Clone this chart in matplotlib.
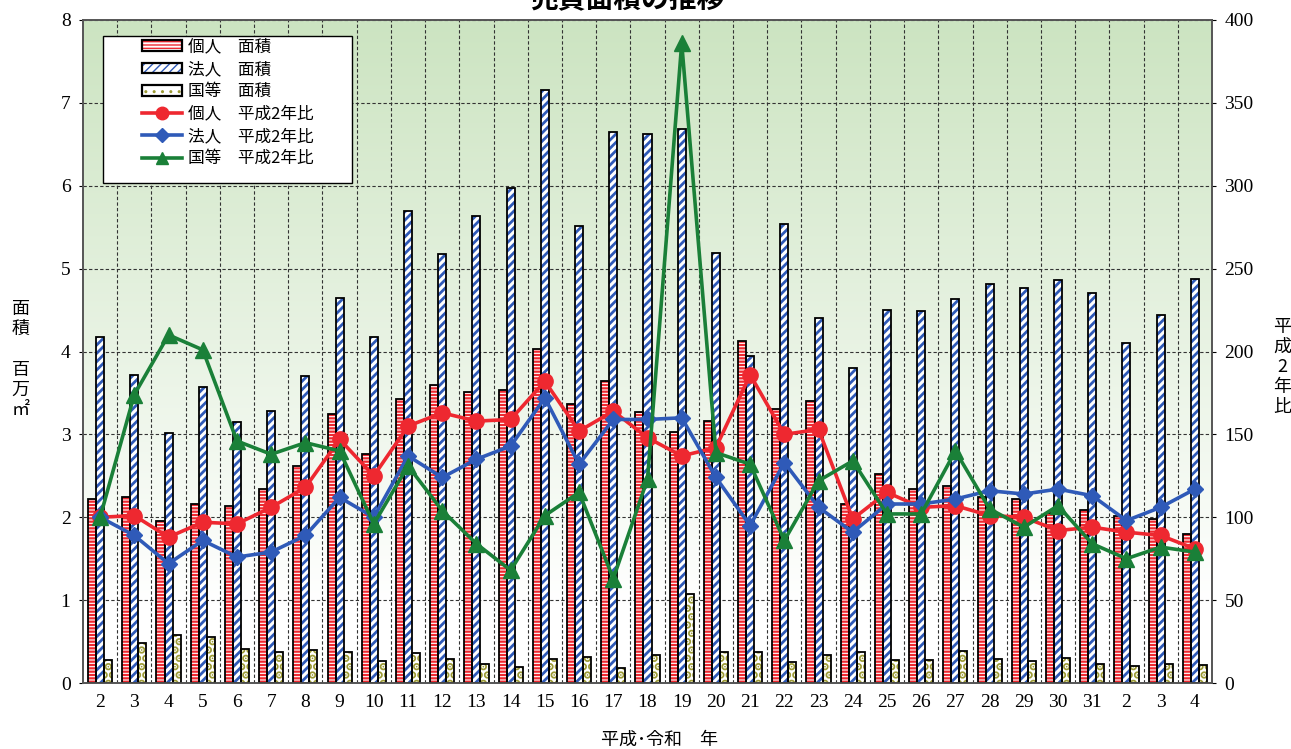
import numpy as np
import matplotlib
matplotlib.use("Agg")
import matplotlib.pyplot as plt
from matplotlib.colors import LinearSegmentedColormap
from matplotlib.lines import Line2D
from matplotlib.patches import Patch, Rectangle
from matplotlib.legend_handler import HandlerTuple

# 年次（平成2年〜31年、令和2年〜4年）
years = ["2", "3", "4", "5", "6", "7", "8", "9", "10", "11", "12", "13", "14", "15",
         "16", "17", "18", "19", "20", "21", "22", "23", "24", "25", "26", "27", "28",
         "29", "30", "31", "2", "3", "4"]

# 面積（百万㎡）
area_kojin = [2.22, 2.25, 1.96, 2.16, 2.13, 2.34, 2.62, 3.25, 2.76, 3.43, 3.59, 3.51,
              3.53, 4.03, 3.37, 3.65, 3.27, 3.03, 3.16, 4.13, 3.31, 3.40, 2.16, 2.52,
              2.34, 2.38, 2.24, 2.22, 2.05, 2.09, 2.02, 1.98, 1.80]
area_hojin = [4.17, 3.72, 3.02, 3.57, 3.15, 3.28, 3.70, 4.65, 4.17, 5.70, 5.18, 5.63,
              5.97, 7.16, 5.51, 6.65, 6.62, 6.68, 5.19, 3.94, 5.54, 4.40, 3.80, 4.50,
              4.49, 4.63, 4.82, 4.77, 4.86, 4.70, 4.10, 4.44, 4.87]
area_kuni = [0.28, 0.48, 0.58, 0.55, 0.41, 0.38, 0.40, 0.38, 0.27, 0.36, 0.29, 0.23,
             0.19, 0.29, 0.31, 0.18, 0.34, 1.07, 0.38, 0.37, 0.25, 0.34, 0.37, 0.28,
             0.28, 0.39, 0.29, 0.26, 0.30, 0.23, 0.21, 0.23, 0.22]

# 平成2年比（%）
ratio_kojin = [100, 101, 88, 97, 96, 106, 118, 147, 125, 155, 163, 158, 159, 182, 152,
               164, 148, 137, 142, 186, 150, 153, 99, 115, 106, 107, 101, 100, 92, 94,
               91, 89, 81]
ratio_hojin = [100, 89, 72, 86, 76, 79, 89, 112, 100, 137, 124, 135, 143, 172, 132,
               159, 159, 160, 124, 95, 133, 106, 91, 108, 108, 111, 116, 114, 117, 113,
               98, 106, 117]
ratio_kuni = [100, 174, 210, 201, 146, 138, 145, 140, 96, 131, 104, 84, 68, 101, 115,
              63, 123, 386, 139, 132, 86, 122, 134, 102, 102, 140, 105, 94, 107, 84,
              75, 82, 79]

jp = ["Noto Sans CJK JP", "DejaVu Sans"]
serif = "Liberation Serif"

RED, BLUE, OLIVE, GREEN = "#ee2830", "#2f5ab8", "#9c9a35", "#1a8038"

fig = plt.figure(figsize=(12.91, 7.49), dpi=100)
ax = fig.add_axes([0.0643, 0.0881, 0.8745, 0.8852])
ax2 = ax.twinx()

n = len(years)
x = np.arange(n)
xmin, xmax = -0.5, n - 0.5

# 背景のグラデーション（下は白、上に向かって薄い緑）
cmap = LinearSegmentedColormap.from_list("bg", [(0.0, "#ffffff"), (0.12, "#ffffff"),
                                                 (1.0, "#cce4c1")])
grad = np.linspace(0, 1, 256).reshape(-1, 1)
ax.imshow(grad, extent=[xmin, xmax, 0, 8], origin="lower", aspect="auto",
          cmap=cmap, zorder=0)

bw = 0.235
# (値, ずらし, 模様の色, 模様, 模様の線幅)
series = [
    (area_kojin, -bw, RED, "-----", 1.6),
    (area_hojin, 0.0, BLUE, "////", 2.0),
    (area_kuni, bw, OLIVE, "..", 4.0),
]
legend_patches = []
for vals, off, hc, hatch, hlw in series:
    with plt.rc_context({"hatch.linewidth": hlw}):
        ax.bar(x + off, vals, width=bw, facecolor="white", edgecolor=hc,
               hatch=hatch, linewidth=0, zorder=3)
        hp = Patch(facecolor="white", edgecolor=hc, hatch=hatch, lw=0)
    ax.bar(x + off, vals, width=bw, fill=False, edgecolor="black", linewidth=1.3,
           zorder=4)
    legend_patches.append((hp, Patch(fill=False, edgecolor="black", lw=1.6)))

ax.set_xlim(xmin, xmax)
ax.set_ylim(0, 8)
ax.set_yticks(range(0, 9))
ax.set_xticks(x)
ax.set_xticklabels(years)
ax.set_xticks(np.arange(0.5, n - 1, 1.0), minor=True)
ax.tick_params(axis="x", which="both", length=0, pad=8)
ax.tick_params(axis="y", length=3, direction="out", pad=6)
for lab in ax.get_xticklabels() + ax.get_yticklabels():
    lab.set_fontfamily(serif)
    lab.set_fontsize(14)

ax.grid(axis="y", which="major", color="#333333", linestyle=(0, (3, 2)),
        linewidth=0.8, zorder=1)
ax.grid(axis="x", which="minor", color="#333333", linestyle=(0, (3, 2)),
        linewidth=0.8, zorder=1)
ax.set_axisbelow(True)

# 平成2年比の折れ線
ax2.plot(x, ratio_kojin, color=RED, lw=2.6, marker="o", ms=11, zorder=6)
ax2.plot(x, ratio_hojin, color=BLUE, lw=2.6, marker="D", ms=8, zorder=6)
ax2.plot(x, ratio_kuni, color=GREEN, lw=2.6, marker="^", ms=11, zorder=6)
ax2.set_ylim(0, 400)
ax2.set_yticks(range(0, 401, 50))
ax2.tick_params(axis="y", length=3, direction="out", pad=6)
for lab in ax2.get_yticklabels():
    lab.set_fontfamily(serif)
    lab.set_fontsize(14)

for a in (ax, ax2):
    for s in a.spines.values():
        s.set_color("#555555")
        s.set_linewidth(1.2)

# 凡例（枠は別に描く）
box = Rectangle((0.0177, 0.754), 0.2205, 0.2219, transform=ax2.transAxes,
                facecolor="white", edgecolor="black", linewidth=1.0, zorder=9)
ax2.add_patch(box)
handles = legend_patches + [
    Line2D([], [], color=RED, lw=2.6, marker="o", ms=9),
    Line2D([], [], color=BLUE, lw=2.6, marker="D", ms=7),
    Line2D([], [], color=GREEN, lw=2.6, marker="^", ms=9),
]
labels = ["個人　面積", "法人　面積", "国等　面積",
          "個人　平成2年比", "法人　平成2年比", "国等　平成2年比"]
leg = ax2.legend(handles, labels, loc="upper left", bbox_to_anchor=(0.052, 0.972),
                 prop={"family": jp, "size": 12}, frameon=False,
                 handlelength=2.4, handleheight=0.6, labelspacing=0.32,
                 borderpad=0.0, handletextpad=0.35, borderaxespad=0,
                 handler_map={tuple: HandlerTuple(ndivide=1, pad=0)})
leg.set_zorder(10)

# 軸ラベル
fig.text(0.016, 0.52, "面\n積\n\n百\n万\n㎡", family=jp, fontsize=13,
         ha="center", va="center", linespacing=1.15)
fig.text(0.993, 0.51, "平\n成\n2\n年\n比", family=jp, fontsize=13,
         ha="center", va="center", linespacing=1.15)
fig.text(0.511, 0.013, "平成･令和　年", family=jp, fontsize=13,
         ha="center", va="center")

# 表題
fig.text(0.486, 1.0, "売買面積の推移", family=jp, fontsize=20, fontweight="bold",
         ha="center", va="center")

fig.savefig("out.png", dpi=100)
